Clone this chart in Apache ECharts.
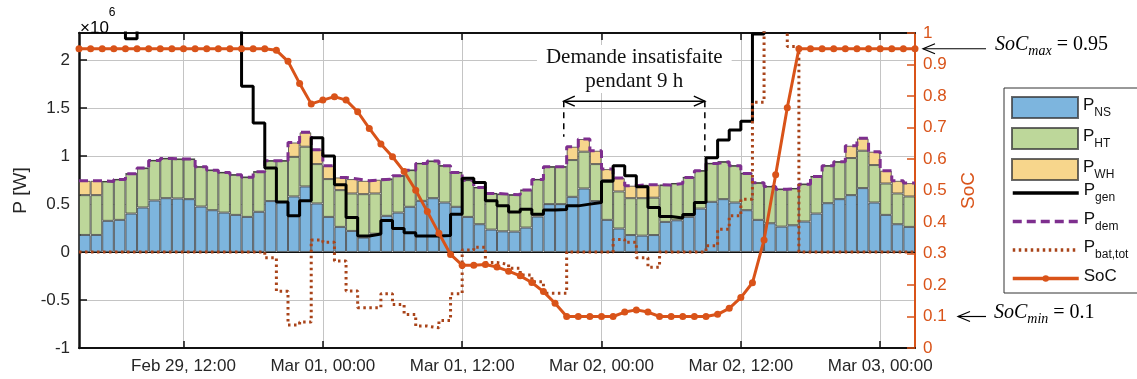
<!DOCTYPE html>
<html><head><meta charset="utf-8">
<script src="https://cdn.jsdelivr.net/npm/echarts@6/dist/echarts.min.js"></script>
<style>html,body{margin:0;padding:0;background:#fff;}#c{width:1137px;height:379px;}</style>
</head><body><div id="c"></div>
<script>
// hours since Feb 29 03:00 ; powers in units of 1e6 W
const tickHours = [9, 21, 33, 45, 57, 69];
const tickLabels = ['Feb 29, 12:00', 'Mar 01, 00:00', 'Mar 01, 12:00', 'Mar 02, 00:00', 'Mar 02, 12:00', 'Mar 03, 00:00'];
const barLegendNames = ['NS', 'HT', 'WH'];
const lineLegendNames = ['gen', 'dem', 'bat,tot', 'SoC'];

const pNS = [0.177,0.177,0.324,0.334,0.400,0.463,0.536,0.560,0.557,0.550,0.473,0.435,0.410,0.386,0.365,0.418,0.530,0.520,
  0.578,0.682,0.505,0.365,0.261,0.219,0.150,0.190,0.376,0.410,0.470,0.532,0.560,0.515,0.470,0.365,0.289,0.233,
  0.215,0.212,0.254,0.369,0.498,0.498,0.574,0.661,0.530,0.334,0.244,0.176,0.170,0.176,0.313,0.330,0.365,0.452,
  0.522,0.550,0.515,0.435,0.334,0.299,0.264,0.278,0.317,0.400,0.508,0.550,0.592,0.665,0.515,0.386,0.289,0.261];
const pHT = [0.415,0.415,0.410,0.421,0.414,0.410,0.417,0.414,0.410,0.417,0.414,0.417,0.418,0.418,0.414,0.417,0.420,0.430,
  0.412,0.414,0.410,0.394,0.383,0.390,0.452,0.419,0.383,0.383,0.382,0.390,0.386,0.383,0.358,0.383,0.383,0.376,
  0.387,0.383,0.390,0.386,0.389,0.389,0.383,0.383,0.385,0.414,0.386,0.384,0.390,0.389,0.383,0.383,0.411,0.394,
  0.400,0.389,0.383,0.383,0.386,0.383,0.390,0.383,0.389,0.386,0.390,0.389,0.386,0.389,0.390,0.327,0.320,0.317];
const pWH = [0.149,0.149,0,0,0,0,0,0,0,0,0,0,0,0,0,0,0,0,
  0.150,0.150,0.150,0.139,0.132,0.150,0.139,0.143,0,0,0,0,0,0,0,0,0,0,
  0,0,0,0,0,0,0.139,0.132,0.139,0.115,0.139,0.130,0.140,0.135,0,0,0,0,
  0,0,0,0,0,0,0,0,0,0,0,0,0.128,0.129,0.139,0.133,0.132,0.139];
const pGen = [2.5,2.5,2.5,2.5,2.22,2.5,2.5,2.5,2.5,2.5,2.5,2.5,2.5,2.5,1.726,1.343,0.873,0.520,
  0.376,0.532,1.190,1.000,0.700,0.358,0.167,0.187,0.327,0.245,0.200,0.165,0.165,0.172,0.393,0.767,0.724,0.532,
  0.480,0.415,0.445,0.393,0.436,0.443,0.480,0.498,0.515,0.737,0.898,0.793,0.680,0.463,0.370,0.353,0.390,0.515,
  0.980,1.166,1.270,1.360,2.270,3.2,3.2,2.8,2.6,2.6,2.6,2.6,2.6,2.6,2.6,2.6,2.6,2.6];
const pBat = [0,0,0,0,0,0,0,0,0,0,0,0,0,0,0,0,-0.06,-0.41,
  -0.76,-0.73,0.125,0.100,-0.094,-0.407,-0.580,-0.580,-0.435,-0.546,-0.650,-0.772,-0.790,-0.713,-0.435,0.020,0.050,-0.110,
  -0.130,-0.170,-0.240,-0.310,-0.430,-0.430,0,0,0,0,0.130,0.100,-0.060,-0.160,0,0,0,0,
  0.065,0.237,0.376,0.550,1.560,2.5,2.5,2.14,0,0,0,0,0,0,0,0,0,0];
const soc = [0.95,0.95,0.95,0.95,0.95,0.95,0.95,0.95,0.95,0.95,0.95,0.95,0.95,0.95,0.95,0.95,0.95,0.945,
  0.910,0.840,0.775,0.787,0.798,0.787,0.750,0.697,0.648,0.607,0.560,0.501,0.433,0.364,0.297,0.263,0.263,0.265,
  0.257,0.244,0.229,0.208,0.179,0.142,0.100,0.100,0.100,0.100,0.100,0.114,0.121,0.114,0.100,0.100,0.100,0.100,
  0.100,0.107,0.126,0.160,0.207,0.343,0.550,0.763,0.95,0.95,0.95,0.95,0.95,0.95,0.95,0.95,0.95,0.95,0.95];
const pDem = pNS.map((v, i) => v + pHT[i] + pWH[i]);
const barCats = pNS.map((_, i) => String(i));

// annotation anchors (data coordinates)
const unmetStart = 41.75, unmetEnd = 53.9, arrowLevel = 1.57, unmetStartBase = 1.2, unmetEndBase = 0.99;
const socMaxMark = 0.95, socMinMark = 0.1;

const FONT = 'Liberation Sans';
const ORANGE = '#D95319';
const BAT = '#A9441A';
const stepData = arr => arr.map((v, i) => [i, v]).concat([[arr.length, arr[arr.length - 1]]]);

function barSeries(name, arr, color) {
  return {
    name, type: 'bar', stack: 'dem', xAxisIndex: 2, data: arr, barWidth: '100%', barCategoryGap: '0%',
    itemStyle: { color, borderColor: 'rgba(55,55,55,0.75)', borderWidth: 1 }, z: 2
  };
}
const legendText = {
  fontFamily: FONT, color: '#111', rich: {
    p: { fontSize: 17, lineHeight: 22, verticalAlign: 'top', fontFamily: FONT, color: '#111' },
    s: { fontSize: 12, lineHeight: 10, verticalAlign: 'bottom', fontFamily: FONT, color: '#111' }
  }
};
const legendFmt = n => n === 'SoC' ? '{p|SoC}' : '{p|P}{s|' + n + '}';

const option = {
  animation: false,
  textStyle: { fontFamily: FONT },
  grid: { left: 79, right: 222, top: 33, bottom: 31, containLabel: false },
  xAxis: [{
    type: 'value', min: 0, max: 72, position: 'bottom',
    axisLine: { show: true, onZero: false, lineStyle: { color: '#111', width: 2 } },
    axisTick: { show: true, inside: true, length: 7, customValues: tickHours, lineStyle: { color: '#111', width: 1.5 } },
    axisLabel: { show: true, customValues: tickHours, margin: 10, fontSize: 17, color: '#262626', fontFamily: FONT,
      formatter: v => { const k = tickHours.indexOf(Math.round(v)); return k >= 0 ? tickLabels[k] : ''; } },
    splitLine: { show: true, lineStyle: { color: '#c4c4c4', width: 1 } }
  }, {
    type: 'value', min: 0, max: 72, position: 'top',
    axisLine: { show: true, onZero: false, lineStyle: { color: '#111', width: 2 } },
    axisTick: { show: true, inside: true, length: 7, customValues: tickHours, lineStyle: { color: '#111', width: 1.5 } },
    axisLabel: { show: false }, splitLine: { show: false }
  }, {
    type: 'category', data: barCats, boundaryGap: true, position: 'bottom', show: false
  }],
  yAxis: [{
    type: 'value', min: -1, max: 2.28, interval: 0.5, position: 'left',
    name: 'P [W]', nameLocation: 'middle', nameGap: 48, nameRotate: 90,
    nameTextStyle: { fontSize: 19, color: '#262626', fontFamily: FONT },
    axisLine: { show: true, onZero: false, lineStyle: { color: '#111', width: 2.5 } },
    axisTick: { show: true, inside: true, length: 8, lineStyle: { color: '#111', width: 1.5 } },
    axisLabel: { fontSize: 17, color: '#262626', margin: 9, showMaxLabel: false, fontFamily: FONT },
    splitLine: { show: true, lineStyle: { color: '#c4c4c4', width: 1 } }
  }, {
    type: 'value', min: 0, max: 1, interval: 0.1, position: 'right',
    name: 'SoC', nameLocation: 'middle', nameGap: 44, nameRotate: 90,
    nameTextStyle: { fontSize: 19, color: ORANGE, fontFamily: FONT },
    axisLine: { show: true, onZero: false, lineStyle: { color: ORANGE, width: 2 } },
    axisTick: { show: true, inside: true, length: 8, lineStyle: { color: ORANGE, width: 1.5 } },
    axisLabel: { fontSize: 17, color: ORANGE, margin: 8, fontFamily: FONT },
    splitLine: { show: false }
  }],
  legend: [{
    orient: 'vertical', left: 1011, top: 96, selectedMode: false, padding: 0,
    itemWidth: 66, itemHeight: 21, itemGap: 8,
    data: barLegendNames.map(n => ({ name: n, icon: 'rect' })),
    formatter: legendFmt, textStyle: legendText
  }, {
    orient: 'vertical', left: 1011, top: 182, selectedMode: false, padding: 0,
    itemWidth: 66, itemHeight: 8, itemGap: 6.5,
    lineStyle: { width: 3.5 },
    data: lineLegendNames,
    formatter: legendFmt, textStyle: legendText
  }],
  series: [
    Object.assign(barSeries('NS', pNS, '#7DB5DE'), {
      markLine: { silent: true, symbol: ['none', 'none'], label: { show: false },
        lineStyle: { color: '#111', width: 1, type: 'solid' }, data: [{ yAxis: 0 }] }
    }),
    barSeries('HT', pHT, '#BDD79A'),
    barSeries('WH', pWH, '#F7D68C'),
    { name: 'gen', type: 'line', step: 'end', data: stepData(pGen), showSymbol: false, symbol: 'none',
      lineStyle: { color: '#000', width: 3 }, itemStyle: { color: '#000', opacity: 0 }, z: 5 },
    { name: 'dem', type: 'line', step: 'end', data: stepData(pDem), showSymbol: false, symbol: 'none',
      lineStyle: { color: '#7E2F8E', width: 3, type: [9, 5] }, itemStyle: { color: '#7E2F8E', opacity: 0 }, z: 4 },
    { name: 'bat,tot', type: 'line', step: 'end', data: stepData(pBat), showSymbol: false, symbol: 'none',
      lineStyle: { color: BAT, width: 3, type: [2.5, 3.5] }, itemStyle: { color: BAT, opacity: 0 }, z: 6 },
    { name: 'SoC', type: 'line', yAxisIndex: 1, data: soc.map((v, i) => [i, v]), symbol: 'circle', symbolSize: 7,
      showSymbol: true, lineStyle: { color: ORANGE, width: 3 }, itemStyle: { color: ORANGE }, z: 7 }
  ]
};

const chart = echarts.init(document.getElementById('c'));
chart.setOption(option);

function chevron(x, y, dir, len, half, color, w) {
  return { type: 'polyline', shape: { points: [[x + dir * len, y - half], [x, y], [x + dir * len, y + half]] },
    style: { stroke: color, lineWidth: w, fill: null }, z: 100 };
}
const xL = chart.convertToPixel({ xAxisIndex: 0 }, unmetStart);
const xR = chart.convertToPixel({ xAxisIndex: 0 }, unmetEnd);
const yA = chart.convertToPixel({ yAxisIndex: 0 }, arrowLevel);
const yLb = chart.convertToPixel({ yAxisIndex: 0 }, unmetStartBase);
const yRb = chart.convertToPixel({ yAxisIndex: 0 }, unmetEndBase);
const xEdge = chart.convertToPixel({ xAxisIndex: 0 }, 72);
const yMax = chart.convertToPixel({ yAxisIndex: 1 }, socMaxMark);
const yMin = chart.convertToPixel({ yAxisIndex: 1 }, socMinMark);
const xTop = chart.convertToPixel({ xAxisIndex: 0 }, 0);

const serifRich = {
  i: { fontFamily: 'Liberation Serif', fontStyle: 'italic', fontSize: 20, color: '#111', lineHeight: 24, verticalAlign: 'top' },
  s: { fontFamily: 'Liberation Serif', fontStyle: 'italic', fontSize: 14, color: '#111', lineHeight: 10, verticalAlign: 'bottom' },
  r: { fontFamily: 'Liberation Serif', fontSize: 20, color: '#111', lineHeight: 24, verticalAlign: 'top' }
};

chart.setOption({
  graphic: [
    { type: 'rect', shape: { x: 1004, y: 88, width: 140, height: 205 }, style: { fill: '#fff', stroke: '#333', lineWidth: 1 }, z: 1 },
    { type: 'text', left: xTop + 1, top: 7, z: 100, style: { text: '{a|×10}{b|6}', rich: {
      a: { fontSize: 17, fontFamily: FONT, color: '#262626', lineHeight: 30, verticalAlign: 'bottom' },
      b: { fontSize: 12, fontFamily: FONT, color: '#262626', lineHeight: 12, verticalAlign: 'top' } } } },
    // unmet demand annotation
    { type: 'text', x: (xL + xR) / 2, y: 45, z: 99, style: {
      text: 'Demande insatisfaite\npendant 9 h', fontFamily: 'Liberation Serif', fontSize: 21, lineHeight: 24,
      fill: '#111', align: 'center', verticalAlign: 'top', backgroundColor: '#fff', padding: [0, 9, 0, 9] } },
    { type: 'line', shape: { x1: xL, y1: yA, x2: xR, y2: yA }, style: { stroke: '#000', lineWidth: 1.5 }, z: 100 },
    chevron(xL, yA, 1, 11, 5, '#000', 1.5),
    chevron(xR, yA, -1, 11, 5, '#000', 1.5),
    { type: 'line', shape: { x1: xL, y1: yA, x2: xL, y2: yLb }, style: { stroke: '#000', lineWidth: 1.5, lineDash: [6, 5] }, z: 100 },
    { type: 'line', shape: { x1: xR, y1: yA, x2: xR, y2: yRb }, style: { stroke: '#000', lineWidth: 1.5, lineDash: [6, 5] }, z: 100 },
    // SoC limits
    { type: 'line', shape: { x1: xEdge + 8, y1: yMax, x2: xEdge + 71, y2: yMax }, style: { stroke: '#000', lineWidth: 1.2 }, z: 100 },
    chevron(xEdge + 8, yMax, 1, 12, 5, '#000', 1.2),
    { type: 'text', left: xEdge + 80, top: yMax - 14, z: 100, style: { text: '{i|SoC}{s|max}{r| = 0.95}', rich: serifRich } },
    { type: 'line', shape: { x1: xEdge + 43, y1: yMin, x2: xEdge + 71, y2: yMin }, style: { stroke: '#000', lineWidth: 1.2 }, z: 100 },
    chevron(xEdge + 43, yMin, 1, 12, 5, '#000', 1.2),
    { type: 'text', left: xEdge + 79, top: yMin - 14, z: 100, style: { text: '{i|SoC}{s|min}{r| = 0.1}', rich: serifRich } }
  ]
});
</script></body></html>
